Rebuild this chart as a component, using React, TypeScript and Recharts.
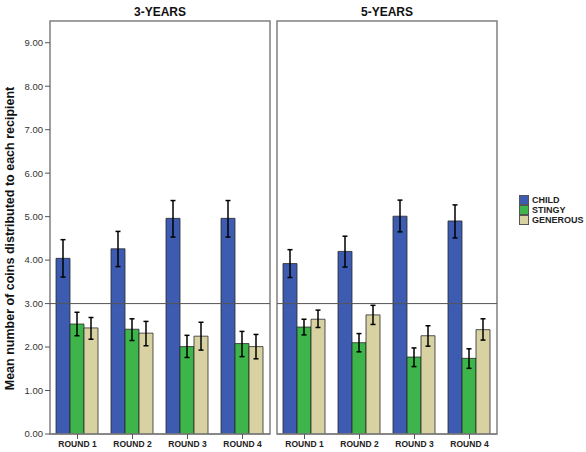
import React from "react";
import {
  BarChart,
  Bar,
  XAxis,
  YAxis,
  ErrorBar,
  ReferenceLine,
  ReferenceArea,
  Legend,
} from "recharts";

const rounds = ["ROUND 1", "ROUND 2", "ROUND 3", "ROUND 4"];
const yTicks = [0, 1, 2, 3, 4, 5, 6, 7, 8, 9];
const seriesNames = ["CHILD", "STINGY", "GENEROUS"];

// 3-YEARS: means with lower / upper error bounds
const child3 = [4.04, 4.26, 4.96, 4.96];
const child3Lo = [3.61, 3.85, 4.53, 4.53];
const child3Hi = [4.47, 4.66, 5.37, 5.37];
const stingy3 = [2.53, 2.41, 2.01, 2.08];
const stingy3Lo = [2.26, 2.15, 1.76, 1.78];
const stingy3Hi = [2.8, 2.65, 2.27, 2.36];
const generous3 = [2.44, 2.32, 2.25, 2.01];
const generous3Lo = [2.18, 2.03, 1.93, 1.73];
const generous3Hi = [2.68, 2.59, 2.57, 2.29];

// 5-YEARS
const child5 = [3.92, 4.2, 5.01, 4.9];
const child5Lo = [3.6, 3.84, 4.65, 4.51];
const child5Hi = [4.24, 4.55, 5.38, 5.27];
const stingy5 = [2.46, 2.1, 1.77, 1.74];
const stingy5Lo = [2.28, 1.89, 1.55, 1.51];
const stingy5Hi = [2.64, 2.31, 1.98, 1.96];
const generous5 = [2.64, 2.74, 2.26, 2.4];
const generous5Lo = [2.45, 2.52, 2.02, 2.16];
const generous5Hi = [2.85, 2.96, 2.49, 2.65];

const COLORS = { child: "#3d5bb0", stingy: "#3db54a", generous: "#d8d2a2" };
const FONT = "Arial, 'Liberation Sans', sans-serif";
const DOMAIN: [number, number] = [0, 9.5];

function build(
  c: number[], cLo: number[], cHi: number[],
  s: number[], sLo: number[], sHi: number[],
  g: number[], gLo: number[], gHi: number[]
) {
  return rounds.map((r, i) => ({
    round: r,
    child: c[i],
    childErr: [c[i] - cLo[i], cHi[i] - c[i]],
    stingy: s[i],
    stingyErr: [s[i] - sLo[i], sHi[i] - s[i]],
    generous: g[i],
    generousErr: [g[i] - gLo[i], gHi[i] - g[i]],
  }));
}

const data3 = build(child3, child3Lo, child3Hi, stingy3, stingy3Lo, stingy3Hi, generous3, generous3Lo, generous3Hi);
const data5 = build(child5, child5Lo, child5Hi, stingy5, stingy5Lo, stingy5Hi, generous5, generous5Lo, generous5Hi);

const xTick = { fontSize: 8.5, fontWeight: 700, fill: "#222", fontFamily: FONT };

function LegendBox({ payload }: any) {
  const items = [...(payload || [])].sort(
    (a: any, b: any) => seriesNames.indexOf(a.value) - seriesNames.indexOf(b.value)
  );
  return (
    <div style={{ fontFamily: FONT, fontSize: 9, fontWeight: 700, color: "#222" }}>
      {items.map((p: any) => (
        <div key={p.value} style={{ display: "flex", alignItems: "center", height: 10 }}>
          <span
            style={{
              display: "inline-block",
              width: 8,
              height: 8,
              background: p.color,
              border: "1px solid #555",
              marginRight: 3,
            }}
          />
          {p.value}
        </div>
      ))}
    </div>
  );
}

function YLabel({ viewBox }: any) {
  const cy = viewBox.y + viewBox.height / 2 + 11;
  const cx = 10;
  return (
    <text
      x={cx}
      y={cy}
      transform={`rotate(-90 ${cx} ${cy})`}
      textAnchor="middle"
      dominantBaseline="central"
      fontSize={12.5}
      fontWeight={700}
      fill="#111"
      fontFamily={FONT}
    >
      Mean number of coins distributed to each recipient
    </text>
  );
}

function Bars() {
  return [
    <Bar key="c" dataKey="child" name="CHILD" fill={COLORS.child} stroke="#2a2a2a" strokeWidth={0.8} isAnimationActive={false}>
      <ErrorBar dataKey="childErr" width={2.5} stroke="#000" strokeWidth={1.5} />
    </Bar>,
    <Bar key="s" dataKey="stingy" name="STINGY" fill={COLORS.stingy} stroke="#2a2a2a" strokeWidth={0.8} isAnimationActive={false}>
      <ErrorBar dataKey="stingyErr" width={2.5} stroke="#000" strokeWidth={1.5} />
    </Bar>,
    <Bar key="g" dataKey="generous" name="GENEROUS" fill={COLORS.generous} stroke="#2a2a2a" strokeWidth={0.8} isAnimationActive={false}>
      <ErrorBar dataKey="generousErr" width={2.5} stroke="#000" strokeWidth={1.5} />
    </Bar>,
  ];
}

function Panel({ data, title, showY, legend }: { data: any[]; title: string; showY: boolean; legend: boolean }) {
  const width = showY ? 272 : 314;
  const margin = showY
    ? { top: 21, right: 2, bottom: 0, left: 0 }
    : { top: 21, right: 89, bottom: 0, left: 5 };
  return (
    <BarChart width={width} height={452} data={data} margin={margin} barCategoryGap={6} barGap={0}>
      <XAxis
        dataKey="round"
        height={18}
        tick={xTick}
        tickSize={5}
        tickMargin={2}
        axisLine={{ stroke: "#808080", strokeWidth: 1.5 }}
        tickLine={{ stroke: "#555" }}
        interval={0}
      />
      <YAxis
        hide={!showY}
        width={50}
        domain={DOMAIN}
        ticks={yTicks}
        allowDataOverflow
        tickFormatter={(v: number) => v.toFixed(2)}
        tick={{ fontSize: 9.5, fill: "#333", fontFamily: FONT }}
        tickSize={5}
        tickMargin={2}
        axisLine={false}
        tickLine={{ stroke: "#555" }}
        label={showY ? <YLabel /> : undefined}
      />
      <ReferenceArea
        y1={0}
        y2={9.5}
        fill="none"
        stroke="#808080"
        strokeWidth={1.5}
        ifOverflow="visible"
        label={{ value: title, position: "top", offset: 5, fontSize: 12, fontWeight: 700, fill: "#111", fontFamily: FONT }}
      />
      {Bars()}
      <ReferenceLine y={3} stroke="#555" strokeWidth={1} />
      {legend && (
        <Legend
          layout="vertical"
          align="center"
          verticalAlign="middle"
          content={<LegendBox />}
          wrapperStyle={{ left: 247, top: 195, width: 70 }}
        />
      )}
    </BarChart>
  );
}

export default function App() {
  return (
    <div style={{ position: "absolute", left: 0, top: 0, width: 586, height: 452, background: "#fff" }}>
      <div style={{ position: "absolute", left: 0, top: 0 }}>
        <Panel data={data3} title="3-YEARS" showY legend={false} />
      </div>
      <div style={{ position: "absolute", left: 272, top: 0 }}>
        <Panel data={data5} title="5-YEARS" showY={false} legend />
      </div>
    </div>
  );
}
